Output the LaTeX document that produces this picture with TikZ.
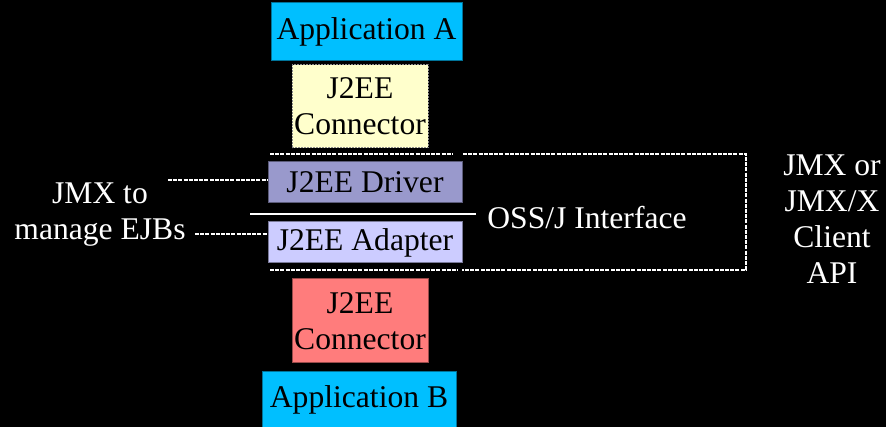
\documentclass[tikz,border=0pt]{standalone}
\usepackage{fontspec}
\setmainfont{Liberation Serif}
\definecolor{appblue}{RGB}{0,191,255}
\definecolor{connyellow}{RGB}{255,255,204}
\definecolor{connred}{RGB}{255,124,124}
\definecolor{driverblue}{RGB}{153,153,204}
\definecolor{adapterblue}{RGB}{204,204,255}

\begin{document}
\begin{tikzpicture}[x=1pt, y=-1pt,
    font=\fontsize{31.6}{36}\selectfont,
    box/.style={draw, line width=1pt, inner sep=0pt, align=center, text=black},
    label/.style={text=white, align=center, inner sep=0pt},
    frame/.style={white, line width=1.3pt, dash pattern=on 4pt off 1.2pt}]
                \fill[black] (0, 0) rectangle (886, 427);
                \useasboundingbox (0, 0) rectangle (886, 427);
                % the two applications and their connectors
                \node[box, fill=appblue, draw=appblue!60!black, minimum width=191, minimum height=58] (appA) at (366.5, 32) {\raisebox{-2pt}{Application A}};
                \node[box, fill=connyellow, draw=black!45, dash pattern=on 2pt off 1pt, minimum width=136, minimum height=83] (connA) at (360, 106.5) {J2EE\\Connector};
                \node[box, fill=driverblue, draw=driverblue!60!black, minimum width=194, minimum height=41] (driver) at (365, 182.5) {J2EE Driver};
                \node[box, fill=adapterblue, draw=adapterblue!60!black, minimum width=194, minimum height=41] (adapter) at (365, 242.5) {J2EE Adapter};
                \node[box, fill=connred, draw=connred!60!black, minimum width=136, minimum height=84] (connB) at (360, 321) {J2EE\\Connector};
                \node[box, fill=appblue, draw=appblue!60!black, minimum width=194, minimum height=55] (appB) at (359, 399.5) {Application B};
                % labels
                \node[label] (jmx) at (100, 215) {JMX to\\manage EJBs};
                \node[label, inner xsep=11pt] (oss) at (587, 218) {OSS/J Interface};
                \node[label] (client) at (832, 219) {JMX or\\JMX/X\\Client\\API};
                % lines
                \coordinate (jmxA) at (168, 180);
                \coordinate (jmxB) at (195, 234);
                \coordinate (ossline) at (250, 214);
                \draw[frame] (jmxA) -- (jmxA -| driver.west);
                \draw[frame] (jmxB) -- (jmxB -| adapter.west);
                \draw[white, line width=1.3pt] (ossline) -- (ossline -| oss.west);
                \draw[frame] (270, 154) -- (453, 154);
                \draw[frame] (463, 154) -- (746, 154) -- (746, 270) -- (462, 270);
                \draw[frame] (270, 270) -- (458, 270);
            \end{tikzpicture}
\end{document}
